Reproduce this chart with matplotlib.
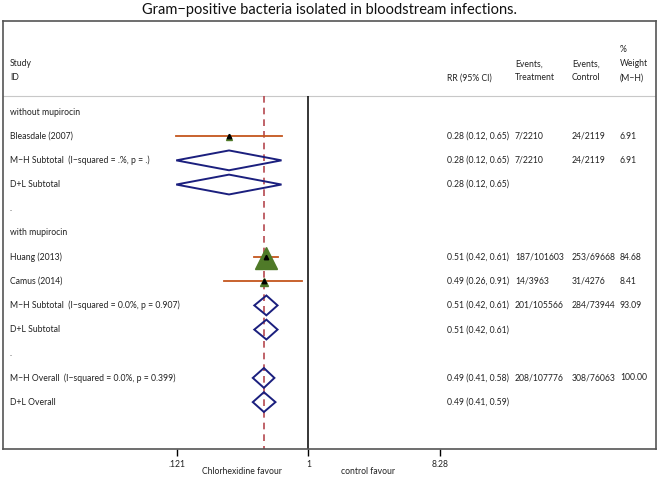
import matplotlib
matplotlib.use("Agg")
import matplotlib.pyplot as plt
import matplotlib.transforms as mtransforms
import numpy as np

plt.rcParams['font.family'] = ['Lato', 'DejaVu Sans']

# rows from top of body (0) downwards
labels = ["without mupirocin", "Bleasdale (2007)",
          "M\u2212H Subtotal  (I\u2212squared = .%, p = .)", "D+L Subtotal", ".",
          "with mupirocin", "Huang (2013)", "Camus (2014)",
          "M\u2212H Subtotal  (I\u2212squared = 0.0%, p = 0.907)", "D+L Subtotal", ".",
          "M\u2212H Overall  (I\u2212squared = 0.0%, p = 0.399)", "D+L Overall"]
rr_text = ["", "0.28 (0.12, 0.65)", "0.28 (0.12, 0.65)", "0.28 (0.12, 0.65)", "",
           "", "0.51 (0.42, 0.61)", "0.49 (0.26, 0.91)", "0.51 (0.42, 0.61)",
           "0.51 (0.42, 0.61)", "", "0.49 (0.41, 0.58)", "0.49 (0.41, 0.59)"]
ev_treat = ["", "7/2210", "7/2210", "", "", "", "187/101603", "14/3963",
            "201/105566", "", "", "208/107776", ""]
ev_ctrl = ["", "24/2119", "24/2119", "", "", "", "253/69668", "31/4276",
           "284/73944", "", "", "308/76063", ""]
weight_text = ["", "6.91", "6.91", "", "", "", "84.68", "8.41", "93.09",
               "", "", "100.00", ""]

# individual studies
study_rows = [1, 6, 7]
study_rr = [0.28, 0.51, 0.49]
study_lo = [0.12, 0.42, 0.26]
study_hi = [0.65, 0.61, 0.91]
study_w = [6.91, 84.68, 8.41]

# pooled estimates (diamonds)
pool_rows = [2, 3, 8, 9, 11, 12]
pool_rr = [0.28, 0.28, 0.51, 0.51, 0.49, 0.49]
pool_lo = [0.12, 0.12, 0.42, 0.42, 0.41, 0.41]
pool_hi = [0.65, 0.65, 0.61, 0.61, 0.58, 0.59]

overall_rr = 0.49
xticks = [0.121, 1, 8.28]
xtick_labels = [".121", "1", "8.28"]

W, H = 661, 483
fig = plt.figure(figsize=(W / 100, H / 100), dpi=100)
ax = fig.add_axes([3 / W, (H - 449) / H, 653 / W, 428 / H])
ax.set_xscale('log')
ax.set_xlim(0.00744, 265)
ax.set_ylim(13.94, -3.765)

sep = -0.66
bottom = 13.94
ax.axhline(sep, color='#c8c8c8', lw=0.8)
ax.vlines(1, sep, bottom, color='black', lw=1.1)
ax.vlines(overall_rr, sep, bottom, color='#b5484f', lw=1.2, linestyles=(0, (4, 3)))

ci_col = '#c4561e'
green = '#4f7a28'
navy = '#1b1f7e'
for r, est, lo, hi, w in zip(study_rows, study_rr, study_lo, study_hi, study_w):
    ax.plot([lo, hi], [r, r], color=ci_col, lw=1.3, zorder=3)
    ax.plot(est, r + 0.05, marker='^', ms=1.75 * np.sqrt(w), color=green, mec=green, zorder=4)
    ax.plot(est, r, marker='^', ms=3.2, color='black', zorder=5)

h = 0.41
for r, est, lo, hi in zip(pool_rows, pool_rr, pool_lo, pool_hi):
    ax.fill([lo, est, hi, est], [r, r - h, r, r + h], facecolor='none',
            edgecolor=navy, lw=1.4, zorder=4)

# text columns, x in axes fraction
def fx(px):
    return (px - 3) / 653

blend = mtransforms.blended_transform_factory(ax.transAxes, ax.transData)
fs = 6.2
tc = '#222222'
for i in range(len(labels)):
    ax.text(fx(10), i, labels[i], transform=blend, fontsize=fs, va='center', color=tc)
    ax.text(fx(447), i, rr_text[i], transform=blend, fontsize=fs, va='center', color=tc)
    ax.text(fx(515), i, ev_treat[i], transform=blend, fontsize=fs, va='center', color=tc)
    ax.text(fx(572), i, ev_ctrl[i], transform=blend, fontsize=fs, va='center', color=tc)
    ax.text(fx(620), i, weight_text[i], transform=blend, fontsize=fs, va='center', color=tc)

hdr = [(10, -1.99, "Study"), (10, -1.41, "ID"), (447, -1.41, "RR (95% CI)"),
       (515, -1.99, "Events,"), (515, -1.41, "Treatment"),
       (572, -1.99, "Events,"), (572, -1.41, "Control"),
       (620, -2.57, "%"), (620, -1.99, "Weight"), (620, -1.41, "(M\u2212H)")]
for px, y, s in hdr:
    ax.text(fx(px), y, s, transform=blend, fontsize=fs, va='center', color=tc)

for sp in ax.spines.values():
    sp.set_color('#555555')
    sp.set_linewidth(1.2)
ax.set_yticks([])
ax.set_xticks(xticks)
ax.set_xticklabels(xtick_labels, fontsize=fs, color=tc)
ax.minorticks_off()
ax.tick_params(axis='x', direction='out', length=5, width=1, color='black', pad=3)

fig.text(330 / W, 1 - 10 / H, "Gram\u2212positive bacteria isolated in bloodstream infections.",
         ha='center', va='center', fontsize=10.5, color='#111111')
fig.text(242 / W, 1 - 472 / H, "Chlorhexidine favour", ha='center', va='center',
         fontsize=fs, color=tc)
fig.text(368 / W, 1 - 472 / H, "control favour", ha='center', va='center',
         fontsize=fs, color=tc)

fig.savefig("out.png", dpi=100)
